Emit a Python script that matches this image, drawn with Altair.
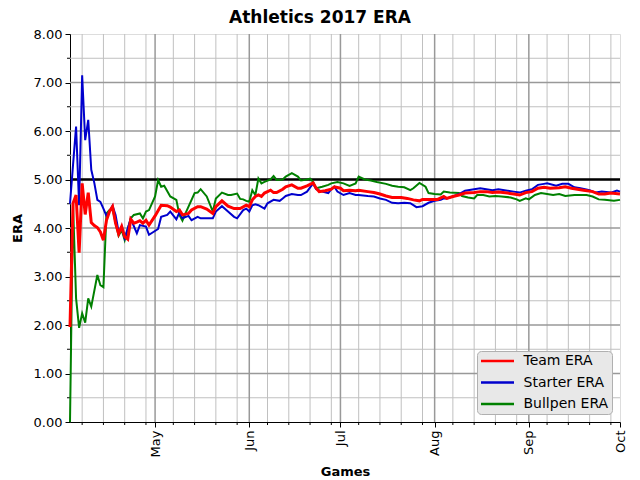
import altair as alt
import pandas as pd

SERIES = ["Team ERA", "Starter ERA", "Bullpen ERA"]
COLORS = ["#ff0000", "#0000cd", "#008000"]
WIDTHS = [3.0, 2.0, 2.0]
SEASON_START = "2017-04-03"

# days after Apr 3, 2017 and ERA values
team_day = [0, 1, 2, 3, 4, 5, 6, 7, 8, 9,
            10, 11, 12, 13, 14, 15, 16, 17, 18, 19,
            20, 21, 22, 23, 24, 25, 26, 28, 30, 32,
            33, 35, 36, 37, 39, 40, 42, 43, 45, 47,
            48, 50, 52, 54, 56, 58, 59, 60, 61, 62,
            63, 64, 66, 67, 68, 70, 71, 73, 75, 76,
            78, 80, 81, 82, 84, 86, 87, 89, 90, 92,
            94, 95, 98, 100, 102, 104, 106, 109, 111, 113,
            115, 116, 118, 121, 123, 124, 126, 128, 130, 133,
            135, 137, 139, 141, 144, 146, 148, 150, 152, 154,
            156, 158, 161, 163, 165, 167, 169, 172, 174, 176,
            178, 181]
team_era = [1.96, 4.51, 4.68, 3.49, 4.92, 4.28, 4.73, 4.11, 4.05, 4.01,
            3.92, 3.75, 4.16, 4.34, 4.44, 4.10, 3.88, 4.03, 3.82, 3.77,
            4.18, 4.10, 4.12, 4.15, 4.10, 4.16, 4.06, 4.25, 4.47, 4.46,
            4.43, 4.34, 4.37, 4.27, 4.30, 4.37, 4.44, 4.44, 4.39, 4.30,
            4.44, 4.56, 4.45, 4.40, 4.40, 4.47, 4.44, 4.58, 4.65, 4.68,
            4.65, 4.72, 4.78, 4.73, 4.73, 4.80, 4.85, 4.89, 4.82, 4.82,
            4.87, 4.93, 4.82, 4.75, 4.77, 4.80, 4.85, 4.82, 4.77, 4.78,
            4.77, 4.78, 4.75, 4.73, 4.70, 4.66, 4.63, 4.63, 4.61, 4.58,
            4.56, 4.59, 4.59, 4.59, 4.65, 4.61, 4.65, 4.68, 4.72, 4.73,
            4.75, 4.75, 4.73, 4.74, 4.72, 4.70, 4.68, 4.73, 4.75, 4.82,
            4.84, 4.82, 4.83, 4.85, 4.82, 4.80, 4.78, 4.75, 4.70, 4.70,
            4.72, 4.70]

starter_day = [0, 1, 2, 3, 4, 5, 6, 7, 8, 9,
               10, 11, 12, 13, 14, 15, 16, 17, 18, 20,
               22, 23, 25, 26, 29, 30, 32, 33, 35, 36,
               37, 39, 40, 42, 43, 47, 48, 50, 52, 54,
               55, 57, 58, 59, 60, 61, 62, 64, 65, 67,
               69, 70, 71, 73, 75, 76, 78, 80, 81, 83,
               85, 86, 87, 88, 90, 92, 94, 95, 98, 100,
               102, 104, 106, 108, 110, 112, 113, 114, 116, 118,
               120, 122, 123, 124, 126, 128, 130, 133, 135, 137,
               139, 141, 144, 146, 148, 150, 152, 154, 156, 157,
               160, 162, 164, 166, 168, 171, 173, 175, 178, 180,
               181]
starter_era = [4.50, 5.30, 6.09, 4.47, 7.15, 5.81, 6.23, 5.20, 4.93, 4.58,
               4.54, 4.40, 4.25, 4.34, 4.46, 4.27, 3.92, 4.03, 3.79, 4.19,
               3.89, 4.06, 4.03, 3.86, 3.98, 4.23, 4.27, 4.34, 4.18, 4.32,
               4.20, 4.25, 4.16, 4.23, 4.20, 4.20, 4.34, 4.45, 4.34, 4.23,
               4.20, 4.37, 4.40, 4.34, 4.47, 4.49, 4.47, 4.40, 4.51, 4.58,
               4.56, 4.61, 4.66, 4.70, 4.68, 4.68, 4.75, 4.92, 4.80, 4.75,
               4.72, 4.80, 4.85, 4.75, 4.68, 4.72, 4.68, 4.68, 4.66, 4.65,
               4.61, 4.58, 4.52, 4.51, 4.52, 4.51, 4.47, 4.43, 4.45, 4.52,
               4.56, 4.58, 4.61, 4.61, 4.65, 4.70, 4.77, 4.80, 4.82, 4.80,
               4.78, 4.80, 4.77, 4.75, 4.73, 4.77, 4.80, 4.89, 4.91, 4.92,
               4.87, 4.91, 4.91, 4.84, 4.82, 4.78, 4.73, 4.75, 4.73, 4.77,
               4.75]

bullpen_day = [0, 1, 2, 3, 4, 5, 6, 7, 9, 10,
               11, 12, 13, 14, 15, 16, 17, 18, 20, 21,
               23, 24, 25, 26, 28, 29, 30, 31, 33, 35,
               36, 37, 38, 40, 41, 42, 43, 45, 47, 48,
               50, 52, 53, 55, 56, 57, 58, 59, 60, 61,
               62, 63, 64, 66, 67, 68, 70, 71, 73, 75,
               76, 78, 79, 80, 81, 83, 85, 86, 88, 90,
               92, 94, 95, 97, 99, 101, 104, 106, 108, 110,
               112, 113, 115, 117, 118, 120, 122, 123, 125, 128,
               129, 131, 133, 134, 136, 138, 140, 142, 145, 147,
               148, 150, 151, 153, 155, 157, 159, 161, 163, 166,
               168, 170, 172, 174, 176, 179, 181]
bullpen_era = [0.00, 4.50, 2.55, 1.94, 2.24, 2.05, 2.55, 2.38, 3.03, 2.82,
               2.78, 4.30, 4.37, 4.40, 4.10, 3.84, 3.96, 3.75, 4.20, 4.27,
               4.30, 4.20, 4.34, 4.37, 4.65, 4.99, 4.85, 4.87, 4.65, 4.58,
               4.27, 4.15, 4.30, 4.58, 4.72, 4.73, 4.80, 4.65, 4.34, 4.61,
               4.73, 4.68, 4.68, 4.71, 4.60, 4.59, 4.56, 4.54, 4.78, 4.68,
               5.02, 4.92, 4.95, 5.00, 5.07, 4.99, 5.00, 5.06, 5.13, 5.06,
               4.98, 5.00, 5.02, 4.95, 4.82, 4.85, 4.89, 4.92, 4.95, 4.92,
               4.87, 4.92, 5.06, 5.00, 4.98, 4.95, 4.91, 4.87, 4.85, 4.84,
               4.78, 4.82, 4.93, 4.85, 4.72, 4.70, 4.69, 4.75, 4.73, 4.72,
               4.66, 4.63, 4.61, 4.68, 4.68, 4.65, 4.66, 4.65, 4.63, 4.59,
               4.56, 4.61, 4.59, 4.68, 4.72, 4.70, 4.68, 4.70, 4.66, 4.68,
               4.68, 4.68, 4.65, 4.59, 4.58, 4.56, 4.58]

month_starts = [5, 6, 7, 8, 9, 10]
minor_month_days = [7, 14, 21, 28]
minor_months = [4, 5, 6, 7, 8, 9]
y_major = [0, 1, 2, 3, 4, 5, 6, 7, 8]
y_major_grid = [1, 2, 3, 4, 5, 6, 7]
y_minor = [0.5, 1.5, 2.5, 3.5, 4.5, 5.5, 6.5, 7.5]
threshold = [5.0]

start = pd.Timestamp(SEASON_START)


def series_frame(days, vals, name):
    return pd.DataFrame({
        "date": [(start + pd.Timedelta(days=d)).strftime("%Y-%m-%d") for d in days],
        "era": vals,
        "series": name,
    })


frames = {
    "Team ERA": series_frame(team_day, team_era, "Team ERA"),
    "Starter ERA": series_frame(starter_day, starter_era, "Starter ERA"),
    "Bullpen ERA": series_frame(bullpen_day, bullpen_era, "Bullpen ERA"),
}

minor_dates = pd.DataFrame({"date": [f"2017-{m:02d}-{d:02d}" for m in minor_months for d in minor_month_days]})
major_dates = pd.DataFrame({"date": [f"2017-{m:02d}-01" for m in month_starts if m < 10]})
ymin_df = pd.DataFrame({"era": y_minor})
ymaj_df = pd.DataFrame({"era": y_major_grid})
thr_df = pd.DataFrame({"era": threshold})

FONT = "DejaVu Sans"

xscale = alt.Scale(type="utc", domain=[alt.DateTime(year=2017, month=4, date=3, utc=True),
                                       alt.DateTime(year=2017, month=10, date=1, utc=True)], nice=False)
yscale = alt.Scale(domain=[0, 8], nice=False, zero=True)

xaxis = alt.Axis(
    values=[alt.DateTime(year=2017, month=m, date=1, utc=True) for m in month_starts],
    format="%b", labelAngle=270, labelAlign="right", labelBaseline="middle",
    labelFontSize=13, labelFont=FONT, labelColor="black", labelPadding=3,
    labelFlush=False, labelOverlap=False,
    tickSize=5, tickColor="black", domainColor="black", grid=False,
    title="Games", titleFont=FONT, titleFontSize=13, titleFontWeight="bold",
    titleColor="black", titleBaseline="alphabetic", titleY=53,
)
yaxis = alt.Axis(
    values=y_major, format=".2f", labelFontSize=13, labelFont=FONT, labelColor="black",
    labelPadding=3, labelFlush=False, tickSize=5, tickColor="black", domainColor="black",
    grid=False, title="ERA", titleFont=FONT, titleFontSize=13, titleFontWeight="bold",
    titleColor="black", titlePadding=9,
)


def X():
    return alt.X("date:T", scale=xscale, axis=xaxis)


def Y():
    return alt.Y("era:Q", scale=yscale, axis=yaxis)


minor_v = alt.Chart(minor_dates).mark_rule(color="#c0c0c0", strokeWidth=1).encode(x=X())
minor_h = alt.Chart(ymin_df).mark_rule(color="#c0c0c0", strokeWidth=1).encode(y=Y())
major_v = alt.Chart(major_dates).mark_rule(color="#999999", strokeWidth=1.5).encode(x=X())
major_h = alt.Chart(ymaj_df).mark_rule(color="#999999", strokeWidth=1.5).encode(y=Y())
minor_xticks = alt.Chart(minor_dates).mark_rule(color="black", strokeWidth=1).encode(
    x=X(), y=alt.value(388), y2=alt.value(391))
minor_yticks = alt.Chart(ymin_df).mark_rule(color="black", strokeWidth=1).encode(
    y=Y(), x=alt.value(0), x2=alt.value(-3))
thr = alt.Chart(thr_df).mark_rule(color="black", strokeWidth=2.5).encode(y=Y())

color = alt.Color("series:N", scale=alt.Scale(domain=SERIES, range=COLORS),
                  legend=alt.Legend(title=None, orient="bottom-right", offset=8,
                                    fillColor="#e8e8e8", strokeColor="#b0b0b0",
                                    cornerRadius=4, padding=3, labelFont=FONT,
                                    labelFontSize=14, labelColor="black",
                                    symbolType="M-3,0H3", symbolSize=121, symbolOffset=10.5,
                                    symbolStrokeWidth=2.5, rowPadding=7.5, labelOffset=19))


def line(name, w):
    return alt.Chart(frames[name]).mark_line(strokeWidth=w, interpolate="linear").encode(
        x=X(), y=Y(), color=color)


lines = [line("Bullpen ERA", WIDTHS[2]), line("Starter ERA", WIDTHS[1]), line("Team ERA", WIDTHS[0])]

chart = alt.layer(minor_v, minor_h, major_v, major_h, minor_xticks, minor_yticks, thr, *lines).properties(
    width=550, height=388,
    title=alt.TitleParams("Athletics 2017 ERA", font=FONT, fontSize=17, fontWeight="bold",
                          color="black", dx=-25, offset=1),
    autosize=alt.AutoSizeParams(type="none"),
    padding={"left": 62, "top": 26, "right": 10, "bottom": 58},
).configure_view(stroke="black", strokeWidth=1).configure(background="white")

chart.save("out.html", embed_options={"renderer": "svg", "actions": False})
